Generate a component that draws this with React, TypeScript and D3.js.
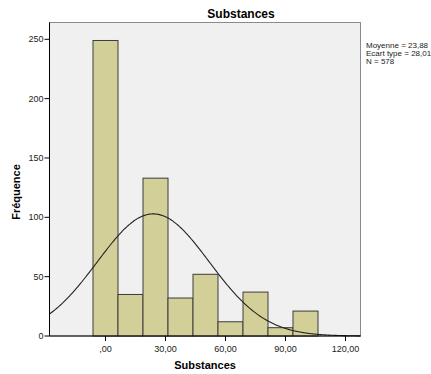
import React, { useEffect, useRef } from 'react';
import * as d3 from 'd3';

// histogram bins (lower edges) and frequencies
const binStarts = [-6.25, 6.25, 18.75, 31.25, 43.75, 56.25, 68.75, 81.25, 93.75];
const binWidth = 12.5;
const counts = [249, 35, 133, 32, 52, 12, 37, 7, 21];
const xTicks = [0, 30, 60, 90, 120];
const yTicks = [0, 50, 100, 150, 200, 250];
const mean = 23.88;
const sd = 28.01;
const n = 578;
const statLines = ['Moyenne = 23,88', 'Ecart type = 28,01', 'N = 578'];

const App = () => {
  const ref = useRef<SVGSVGElement>(null);

  useEffect(() => {
    const svg = d3.select(ref.current);
    svg.selectAll('*').remove();

    const left = 49.5, right = 360.5, top = 22.5, bottom = 336;
    const x = d3.scaleLinear().domain([-28, 127.5]).range([left, right]);
    const y = d3.scaleLinear().domain([0, 250]).range([bottom, bottom - 296.7]);
    const font = 'Arial, "Liberation Sans", sans-serif';

    svg.append('rect')
      .attr('x', left).attr('y', top)
      .attr('width', right - left).attr('height', bottom - top)
      .attr('fill', '#f0f0f0').attr('stroke', '#8a8a8a').attr('stroke-width', 1);

    svg.selectAll('rect.bar')
      .data(counts)
      .enter().append('rect')
      .attr('class', 'bar')
      .attr('x', (d, i) => x(binStarts[i]))
      .attr('y', d => y(d))
      .attr('width', x(binWidth) - x(0))
      .attr('height', d => y(0) - y(d))
      .attr('fill', '#d3cf98')
      .attr('stroke', '#3c3c3c')
      .attr('stroke-width', 1);

    // fitted normal curve from the shown mean / sd
    const pts = d3.range(-28, 127.6, 0.5).map(v => [
      v,
      n * binWidth * Math.exp(-0.5 * ((v - mean) / sd) ** 2) / (sd * Math.sqrt(2 * Math.PI)),
    ]);
    const line = d3.line<number[]>().x(d => x(d[0])).y(d => y(d[1])).curve(d3.curveBasis);
    svg.append('path')
      .attr('d', line(pts))
      .attr('fill', 'none')
      .attr('stroke', '#222')
      .attr('stroke-width', 1.1);

    // axes
    const xAxis = svg.append('g').attr('transform', `translate(0,${bottom})`);
    xAxis.append('line').attr('x1', left).attr('x2', right).attr('stroke', '#000');
    xTicks.forEach(t => {
      xAxis.append('line').attr('x1', x(t)).attr('x2', x(t)).attr('y1', 0).attr('y2', 5).attr('stroke', '#000');
      xAxis.append('text')
        .attr('x', x(t)).attr('y', 16)
        .attr('text-anchor', 'middle')
        .style('font-family', font).style('font-size', '9px').style('fill', '#222')
        .text(t === 0 ? ',00' : d3.format('.2f')(t).replace('.', ','));
    });

    const yAxis = svg.append('g').attr('transform', `translate(${left},0)`);
    yAxis.append('line').attr('y1', top).attr('y2', bottom).attr('stroke', '#000');
    yTicks.forEach(t => {
      yAxis.append('line').attr('x1', -5).attr('x2', 0).attr('y1', y(t)).attr('y2', y(t)).attr('stroke', '#000');
      yAxis.append('text')
        .attr('x', -6).attr('y', y(t)).attr('dy', '0.35em')
        .attr('text-anchor', 'end')
        .style('font-family', font).style('font-size', '9px').style('fill', '#222')
        .text(t);
    });

    svg.append('text')
      .attr('x', 241).attr('y', 18)
      .attr('text-anchor', 'middle')
      .style('font-family', font).style('font-size', '12px').style('font-weight', 'bold')
      .text('Substances');

    svg.append('text')
      .attr('x', 205).attr('y', 369)
      .attr('text-anchor', 'middle')
      .style('font-family', font).style('font-size', '11px').style('font-weight', 'bold')
      .text('Substances');

    svg.append('text')
      .attr('transform', 'translate(20,192) rotate(-90)')
      .attr('text-anchor', 'middle')
      .style('font-family', font).style('font-size', '11px').style('font-weight', 'bold')
      .text('Fréquence');

    svg.selectAll('text.stat')
      .data(statLines)
      .enter().append('text')
      .attr('class', 'stat')
      .attr('x', 366).attr('y', (d, i) => 48 + i * 8)
      .style('font-family', font).style('font-size', '8px').style('fill', '#222')
      .text(d => d);
  }, []);

  return (
    <svg ref={ref} width={431} height={374}
      style={{ position: 'absolute', left: 0, top: 0, background: '#fff' }} />
  );
};

export default App;
